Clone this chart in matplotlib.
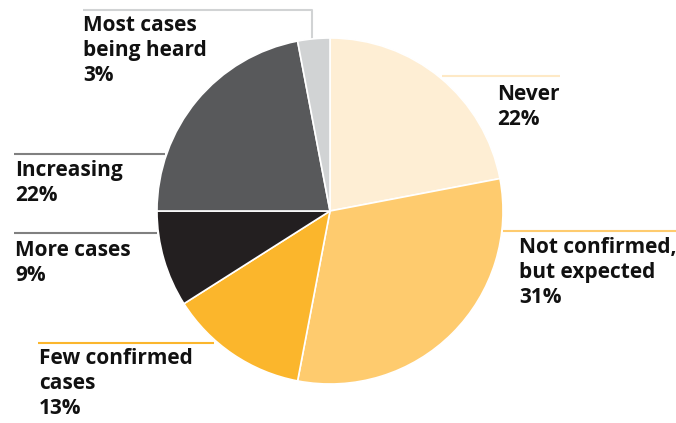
import matplotlib
matplotlib.use("Agg")
import matplotlib.pyplot as plt

# share of responses, clockwise from 12 o'clock
labels = ["Never", "Not confirmed,\nbut expected", "Few confirmed\ncases",
          "More cases", "Increasing", "Most cases\nbeing heard"]
values = [22, 31, 13, 9, 22, 3]
colors = ["#feeed4", "#fecb6e", "#fbb62c", "#231f20", "#58595b", "#d1d3d4"]
line_colors = ["#fee9c6", "#fecb6e", "#fbb62c", "#808080", "#808080", "#d1d3d4"]

W, H = 676, 423
CX, CY, R = 330, 211, 173

# label layout in pixel space (top-left origin): text anchor, leader line
layout = [
    dict(text=(497, 84), line=[(442, 76), (560, 76)]),
    dict(text=(519, 237), line=[(503, 231), (676, 231)]),
    dict(text=(39, 348), line=[(38, 343), (214, 343)]),
    dict(text=(15, 240), line=[(14, 233), (157, 233)]),
    dict(text=(15, 160), line=[(14, 154), (165, 154)]),
    dict(text=(83, 15), line=[(83, 9.5), (312, 9.5), (312, 40)]),
]

plt.rcParams["font.family"] = ["Open Sans", "DejaVu Sans"]

fig = plt.figure(figsize=(W / 100, H / 100), dpi=100)
ax = fig.add_axes([0, 0, 1, 1])

ax.pie(values, colors=colors, startangle=90, counterclock=False,
       center=(CX, H - CY), radius=R,
       wedgeprops=dict(edgecolor="white", linewidth=1.2))

for lab, val, lc, lay in zip(labels, values, line_colors, layout):
    xs = [p[0] for p in lay["line"]]
    ys = [H - p[1] for p in lay["line"]]
    ax.plot(xs, ys, color=lc, linewidth=1.5, zorder=0, solid_capstyle="butt")
    tx, ty = lay["text"]
    ax.text(tx, H - ty, f"{lab}\n{val}%", ha="left", va="top",
            fontsize=15, fontweight="bold", color="#111111", linespacing=1.26)

ax.set_xlim(0, W)
ax.set_ylim(0, H)
ax.set_aspect("equal")
ax.axis("off")

fig.savefig("out.png", dpi=100)
